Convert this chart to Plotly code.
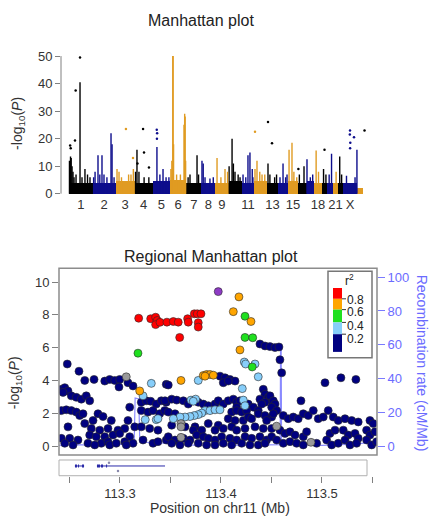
import plotly.graph_objects as go

W, H = 429, 523


def px(x):
    return x / W


def py(y):
    return 1 - y / H


FONT = "Liberation Sans, Arial, Helvetica, sans-serif"
TXT = "#333333"
AX = "#808080"
BLUE_AX = "#6b6bff"

# ---------------- Manhattan plot data ----------------
CHROMS = ["1", "2", "3", "4", "5", "6", "7", "8", "9", "10", "11", "12", "13",
          "14", "15", "16", "17", "18", "19", "20", "21", "22", "X", "Y", "MT"]
CHROM_LEN = [249.3, 243.2, 198.0, 191.2, 180.9, 171.1, 159.1, 146.4, 141.2, 135.5,
             135.0, 133.9, 115.2, 107.3, 102.5, 90.4, 81.2, 78.1, 59.1, 63.0,
             48.1, 51.3, 155.3, 59.4, 30.0]
CHROM_BASE = [4.0, 4.0, 4.5, 4.0, 4.5, 5.0, 4.0, 4.0, 4.0, 4.5, 4.0, 4.5, 4.0,
              4.0, 4.5, 4.0, 4.5, 4.0, 4.0, 4.0, 4.0, 4.0, 4.0, 2.0, 0.0]
CHROM_TICKS = ["1", "2", "3", "4", "5", "6", "7", "8", "9", "11", "13", "15", "18", "21", "X"]
CHROM_COLORS = ["#000000", "#0d0d8c", "#e09b22"]

PEAK_CHR = (["1"] * 12 + ["2"] * 10 + ["3"] * 6 + ["4"] * 5 + ["5"] * 5 + ["6"] * 11 +
            ["7"] * 4 + ["8"] * 5 + ["9"] * 4 + ["10"] * 6 + ["11"] * 6 + ["12"] * 5 +
            ["13"] * 4 + ["14"] * 4 + ["15"] * 4 + ["16"] * 2 + ["17"] * 3 + ["18"] * 2 +
            ["19"] * 2 + ["20"] * 2 + ["21"] * 1 + ["22"] * 2 + ["X"] * 3)
PEAK_POS = [5, 16, 23, 32, 42, 53, 74, 116, 137, 168, 195, 221,
            10, 25, 56, 75, 98, 119, 150, 193, 204, 225,
            13, 34, 60, 135, 160, 185,
            10, 25, 46, 100, 150,
            44, 75, 108, 140, 170,
            10, 20, 30, 33, 38, 70, 110, 148, 155, 160, 165,
            20, 40, 114, 130,
            7, 20, 39, 91, 126,
            19, 60, 103, 130,
            5, 36, 50, 67, 100, 120,
            16, 45, 68, 89, 113, 120,
            7, 28, 57, 81, 110,
            10, 30, 80, 100,
            21, 53, 80, 95,
            9, 40, 60, 90,
            15, 64,
            5, 40, 65,
            20, 45,
            20, 45,
            20, 45,
            30,
            20, 40,
            40, 130, 150]
PEAK_TOP = [12, 13.5, 13, 10, 8, 6, 7, 40.5, 6, 9, 7, 6,
            6, 8, 14, 7, 14, 7, 6, 22, 18, 6,
            9, 8, 6, 7, 7, 9,
            8, 16, 8, 6, 6,
            17, 7, 9, 6, 6,
            9, 12, 50, 50, 18, 7, 7, 25, 29, 28, 12,
            6, 7, 14, 7,
            12, 11, 6, 5.5, 6,
            13, 6, 9, 8,
            10, 20, 11, 8, 7, 6,
            7, 6, 14, 15, 9, 6,
            9, 12, 8, 7, 7,
            11, 7, 6, 7,
            6, 11, 6, 7,
            16, 18.5, 8, 6,
            7, 10,
            12.5, 6, 7,
            15.7, 8,
            9, 7,
            7, 14.5,
            8,
            13.5, 7,
            6.5, 6, 16]

POINT_CHR = ["1", "1", "1", "1", "1", "3", "3", "4", "4", "4", "4", "5", "5", "5",
             "12", "13", "13", "16", "19", "X", "X", "X", "X", "X", "MT"]
POINT_POS = [12, 18, 63, 70, 116, 107, 181, 89, 99, 151, 30, 42, 46, 44,
             7, 10, 52, 5, 30, 77, 75, 80, 78, 119, 15]
POINT_VAL = [17.5, 16.5, 19.3, 37.5, 49.5, 23.5, 13, 23.5, 15, 9.5, 11, 23.2, 22, 20,
             22.5, 26, 18.3, 9, 16, 23, 21.5, 18.5, 16.5, 20.5, 23]

# ---------------- Regional plot data ----------------
NAVY_POS = [113.2478, 113.2594, 113.2651, 113.2743, 113.2849, 113.2898, 113.2948, 113.2997,
            113.2990, 113.3079, 113.3129, 113.2419, 113.2453, 113.2485, 113.2518, 113.2567,
            113.2617, 113.2666, 113.2700, 113.2436, 113.2419, 113.2468, 113.2518, 113.2567,
            113.2601, 113.2634, 113.2782, 113.2832, 113.2733, 113.2914, 113.3096, 113.3079,
            113.2485, 113.2651, 113.2716, 113.2799, 113.2881, 113.2980, 113.3047, 113.3146,
            113.2700, 113.2765, 113.2849, 113.2931, 113.2997, 113.3096, 113.2419, 113.2502,
            113.2584, 113.2815, 113.2881, 113.3047, 113.3129, 113.2453, 113.2535, 113.2683,
            113.2750, 113.2898, 113.2963, 113.3062, 113.3211, 113.3260, 113.3304, 113.3359,
            113.3409, 113.3458, 113.3458, 113.3211, 113.3277, 113.3327, 113.3393, 113.3443,
            113.3211, 113.3294, 113.3376, 113.3228, 113.3327, 113.3376, 113.3458, 113.3478,
            113.3990, 113.4040, 113.4089, 113.4139, 113.4023, 113.4072, 113.4419, 113.4436,
            113.4386, 113.4468, 113.4502, 113.4436, 113.4403, 113.3446, 113.3512, 113.3561,
            113.3627, 113.3676, 113.3775, 113.3825, 113.3874, 113.3941, 113.3973, 113.4023,
            113.4072, 113.4122, 113.4155, 113.4188, 113.4155, 113.4270, 113.4320, 113.4369,
            113.3478, 113.3545, 113.4106, 113.4155, 113.4205, 113.4254, 113.4072, 113.4139,
            113.4221, 113.4270, 113.4304, 113.4369, 113.4436, 113.4502, 113.4452, 113.3512,
            113.3644, 113.3743, 113.3874, 113.3973, 113.4023, 113.4106, 113.4155, 113.4238,
            113.4337, 113.4419, 113.4502, 113.3726, 113.3809, 113.3941, 113.3478, 113.3545,
            113.3627, 113.3693, 113.3759, 113.3825, 113.3874, 113.3941, 113.4007, 113.4089,
            113.4155, 113.4238, 113.4304, 113.4386, 113.4452, 113.4502, 113.3512, 113.3594,
            113.3676, 113.3775, 113.3858, 113.3941, 113.4023, 113.4106, 113.4205, 113.4287,
            113.4369, 113.4436, 113.4386, 113.4436, 113.4485, 113.4535, 113.4574, 113.4584,
            113.4601, 113.5030, 113.5188, 113.5336, 113.4792, 113.4485, 113.4518, 113.4535,
            113.4502, 113.4551, 113.4518, 113.4617, 113.4666, 113.4716, 113.4765, 113.4815,
            113.4864, 113.4914, 113.4963, 113.5013, 113.5062, 113.5112, 113.5161, 113.5228,
            113.5294, 113.5359, 113.5475, 113.5508, 113.4584, 113.4634, 113.4683, 113.4733,
            113.4815, 113.4848, 113.5079, 113.5129, 113.5211, 113.5260, 113.5327, 113.5359,
            113.5442, 113.5475, 113.5525, 113.4551, 113.4617, 113.4683, 113.4749, 113.4815,
            113.4947, 113.5046, 113.5096, 113.5161, 113.5228, 113.5277, 113.5343, 113.5442,
            113.5492, 113.5541]
NAVY_LOGP = [5.01, 4.57, 4.01, 4.07, 3.97, 4.07, 4.01, 4.07,
             3.61, 3.87, 3.67, 3.47, 3.57, 3.37, 3.07, 2.98,
             2.87, 3.07, 2.77, 3.28, 2.17, 2.22, 2.17, 2.08,
             1.87, 1.98, 1.98, 1.81, 1.57, 1.57, 2.38, 1.57,
             1.18, 1.38, 1.08, 0.98, 1.08, 0.98, 1.08, 1.18,
             0.68, 0.58, 0.58, 0.68, 0.78, 0.58, 0.48, 0.48,
             0.38, 0.18, 0.28, 0.28, 0.18, 0.18, 0.08, 0.18,
             0.08, 0.08, 0.18, 0.08, 2.68, 2.77, 2.74, 2.57,
             2.77, 2.68, 3.77, 2.17, 2.08, 2.17, 1.98, 2.17,
             1.18, 1.08, 0.98, 0.38, 0.18, 0.28, 0.38, 3.73,
             4.27, 4.17, 4.07, 3.97, 3.87, 3.97, 3.47, 3.17,
             2.87, 2.98, 2.77, 2.68, 2.57, 2.77, 2.87, 2.81,
             2.77, 2.57, 2.68, 2.57, 2.47, 2.57, 2.77, 2.57,
             2.77, 2.87, 2.68, 2.77, 2.38, 2.57, 2.38, 2.17,
             2.08, 1.98, 2.08, 2.17, 2.08, 2.17, 1.68, 1.57,
             1.57, 1.78, 1.68, 1.98, 1.87, 1.78, 1.57, 1.28,
             1.18, 1.18, 1.38, 1.28, 1.08, 1.18, 0.98, 1.08,
             1.18, 1.08, 1.08, 0.98, 0.98, 0.98, 0.58, 0.38,
             0.48, 0.38, 0.68, 0.58, 0.48, 0.38, 0.58, 0.48,
             0.38, 0.58, 0.48, 0.58, 0.38, 0.58, 0.18, 0.08,
             0.18, 0.18, 0.08, 0.08, 0.18, 0.08, 0.18, 0.08,
             0.08, 0.18, 6.23, 6.11, 6.07, 6.01, 6.05, 5.27,
             4.47, 3.87, 4.17, 4.07, 2.77, 3.07, 2.77, 2.57,
             2.38, 2.17, 1.98, 1.87, 1.68, 1.78, 1.68, 1.98,
             1.87, 2.17, 1.68, 1.78, 2.17, 1.78, 1.57, 1.68,
             1.57, 1.48, 1.57, 1.38, 0.98, 0.78, 0.88, 0.68,
             0.58, 0.88, 0.78, 0.98, 0.98, 0.68, 0.78, 0.48,
             0.98, 0.68, 0.88, 0.38, 0.18, 0.28, 0.18, 0.08,
             0.18, 0.38, 0.08, 0.18, 0.38, 0.08, 0.18, 0.38,
             0.08, 0.28]

LIGHTBLUE_POS = [113.3775, 113.4231, 113.4244, 113.4337, 113.4369, 113.4211, 113.4221, 113.4238,
                 113.3703, 113.3749, 113.3726, 113.3842, 113.3891, 113.3941, 113.3990, 113.3809,
                 113.3775, 113.3736, 113.3693, 113.3644, 113.3594, 113.3528, 113.3310, 113.3250,
                 113.3359, 113.3376, 113.3228]
LIGHTBLUE_LOGP = [4.01, 5.13, 5.01, 5.01, 4.23, 3.51, 2.81, 2.47,
                  2.81, 2.87, 2.74, 2.17, 2.17, 2.22, 2.22, 2.02,
                  1.93, 1.87, 1.81, 1.78, 1.78, 1.68, 3.83, 1.62,
                  1.62, 1.68, 3.07]

GRAY_POS = [113.3062, 113.3604, 113.3604, 113.3604, 113.4551, 113.4891]
GRAY_LOGP = [4.23, 1.38, 1.18, 0.54, 1.22, 0.24]

GREEN_POS = [113.3178, 113.4238, 113.4238, 113.4314, 113.4310]
GREEN_LOGP = [5.67, 7.92, 6.63, 6.61, 4.83]

ORANGE_POS = [113.4178, 113.4122, 113.4297, 113.4188, 113.3604, 113.3825, 113.3858, 113.3891,
              113.3924, 113.3842, 113.3195]
ORANGE_LOGP = [9.10, 8.20, 7.60, 5.87, 4.01, 4.31, 4.37, 4.37,
               4.33, 4.27, 3.37]

RED_POS = [113.3185, 113.3304, 113.3353, 113.3369, 113.3353, 113.3396, 113.3465, 113.3528,
           113.3577, 113.3591, 113.3670, 113.3676, 113.3736, 113.3765, 113.3802, 113.3775,
           113.3775]
RED_LOGP = [7.80, 7.77, 7.86, 7.66, 7.41, 7.55, 7.56, 7.60,
            7.56, 6.63, 7.77, 7.56, 8.07, 8.07, 8.07, 7.53,
            7.26]

LEAD_POS = [113.3973]
LEAD_LOGP = [9.42]

RECOMB_POS = [113.2396, 113.2550, 113.2700, 113.2900, 113.3140, 113.3150, 113.3186, 113.3196,
              113.3400, 113.3600, 113.3800, 113.4000, 113.4200, 113.4450, 113.4586, 113.4590,
              113.4596, 113.4600, 113.4800, 113.5000, 113.5300, 113.5450, 113.5545]
RECOMB_RATE = [0.5, 1.0, 0.6, 1.2, 0.8, 28.5, 28.0, 2.5,
               2.0, 1.0, 0.5, 0.8, 0.5, 0.8, 1.0, 58.5,
               57.5, 1.5, 0.8, 0.5, 1.2, 2.0, 0.8]

R2_LABELS = ["0.8", "0.6", "0.4", "0.2"]
R2_COLORS = ["#ff0000", "#ffa500", "#1fe01f", "#87cefa", "#000080"]
LEAD_COLOR = "#8e3bc5"
GRAY_COLOR = "#9a9a9a"

GENE_LINE_START = [113.2554, 113.2772]
GENE_LINE_END = [113.2644, 113.3446]
EXON_START = [113.2554, 113.2584, 113.2624, 113.2772, 113.2812, 113.2862]
EXON_END = [113.2574, 113.2594, 113.2644, 113.2802, 113.2832, 113.2872]
GENE_MARK_POS = [113.2891, 113.2980]
GENE_MARK_Y = [0.82, 0.30]

REG_XTICK0 = 113.3
REG_XDTICK = 0.1
REG_XMINOR = 0.05

# ---------------- build figure ----------------
offset, mid, ccol = {}, {}, {}
acc = 0.0
for i, (c, L) in enumerate(zip(CHROMS, CHROM_LEN)):
    offset[c] = acc
    mid[c] = acc + L / 2
    ccol[c] = CHROM_COLORS[i % 3]
    acc += L

fig = go.Figure()

# dense baseline band of each chromosome
fig.add_trace(go.Bar(
    x=[mid[c] for c in CHROMS], y=CHROM_BASE, width=CHROM_LEN,
    marker=dict(color=[ccol[c] for c in CHROMS], line=dict(width=0)),
    xaxis="x", yaxis="y", showlegend=False, hoverinfo="skip"))

# peak columns
for col in CHROM_COLORS:
    xs, ys = [], []
    for c, p, t in zip(PEAK_CHR, PEAK_POS, PEAK_TOP):
        if ccol[c] != col:
            continue
        g = offset[c] + p
        xs += [g, g, None]
        ys += [0, t, None]
    fig.add_trace(go.Scatter(x=xs, y=ys, mode="lines", line=dict(color=col, width=1.4),
                             xaxis="x", yaxis="y", showlegend=False, hoverinfo="skip"))

# isolated points
for col in CHROM_COLORS:
    xs = [offset[c] + p for c, p in zip(POINT_CHR, POINT_POS) if ccol[c] == col]
    ys = [v for c, v in zip(POINT_CHR, POINT_VAL) if ccol[c] == col]
    fig.add_trace(go.Scatter(x=xs, y=ys, mode="markers", marker=dict(color=col, size=2.5),
                             xaxis="x", yaxis="y", showlegend=False, hoverinfo="skip"))

# recombination rate line (base axis y2, drawn underneath)
fig.add_trace(go.Scatter(x=RECOMB_POS, y=RECOMB_RATE, mode="lines",
                         line=dict(color="#8a8aff", width=1.2),
                         xaxis="x2", yaxis="y2", showlegend=False, hoverinfo="skip"))

MLINE = dict(color="#2a2a2a", width=0.6)
groups = [
    (NAVY_POS, NAVY_LOGP, R2_COLORS[4]),
    (LIGHTBLUE_POS, LIGHTBLUE_LOGP, R2_COLORS[3]),
    (GRAY_POS, GRAY_LOGP, GRAY_COLOR),
    (GREEN_POS, GREEN_LOGP, R2_COLORS[2]),
    (ORANGE_POS, ORANGE_LOGP, R2_COLORS[1]),
    (RED_POS, RED_LOGP, R2_COLORS[0]),
    (LEAD_POS, LEAD_LOGP, LEAD_COLOR),
]
for xs, ys, col in groups:
    fig.add_trace(go.Scatter(x=xs, y=ys, mode="markers",
                             marker=dict(color=col, size=8, line=MLINE),
                             xaxis="x2", yaxis="y4", showlegend=False, hoverinfo="skip"))

# gene track
gx, gy = [], []
for s, e in zip(GENE_LINE_START, GENE_LINE_END):
    gx += [s, e, None]
    gy += [0.62, 0.62, None]
fig.add_trace(go.Scatter(x=gx, y=gy, mode="lines", line=dict(color="#2a2aa8", width=1),
                         xaxis="x3", yaxis="y3", showlegend=False, hoverinfo="skip"))
ex, ey = [], []
for s, e in zip(EXON_START, EXON_END):
    ex += [s, e, None]
    ey += [0.62, 0.62, None]
fig.add_trace(go.Scatter(x=ex, y=ey, mode="lines", line=dict(color="#2a2aa8", width=3),
                         xaxis="x3", yaxis="y3", showlegend=False, hoverinfo="skip"))
fig.add_trace(go.Scatter(x=GENE_MARK_POS, y=GENE_MARK_Y, mode="markers",
                         marker=dict(color="#8888aa", size=2.5),
                         xaxis="x3", yaxis="y3", showlegend=False, hoverinfo="skip"))

# ---------------- layout ----------------
top_range_y = [-0.6, 51.5]
reg_xrange = [113.2396, 113.5545]
tickfont = dict(family=FONT, size=13, color=TXT)

fig.update_layout(
    width=W, height=H, autosize=False,
    margin=dict(l=0, r=0, t=0, b=0),
    paper_bgcolor="white", plot_bgcolor="white",
    font=dict(family=FONT, color=TXT),
    bargap=0,
    xaxis=dict(domain=[px(61), px(372)], range=[-84.2, 3189.5], anchor="y",
               tickvals=[mid[c] for c in CHROM_TICKS], ticktext=CHROM_TICKS,
               ticks="", showgrid=False, zeroline=False, showline=False,
               tickfont=tickfont),
    yaxis=dict(domain=[py(195.7), py(49.8)], range=top_range_y, anchor="x",
               tickvals=[0, 10, 20, 30, 40, 50], ticks="outside", ticklen=5,
               tickcolor=AX, showgrid=False, zeroline=False, showline=False,
               tickfont=tickfont),
    xaxis2=dict(domain=[px(59), px(377)], range=reg_xrange, anchor="y2",
                showticklabels=False, ticks="", showgrid=False, zeroline=False,
                showline=False),
    yaxis2=dict(domain=[py(460), py(270)], range=[-5.23, 105.2], anchor="x2",
                side="right", tickvals=[0, 20, 40, 60, 80, 100], ticks="outside",
                ticklen=7, tickcolor="#7a7aff", showgrid=False, zeroline=False,
                showline=False, tickfont=dict(family=FONT, size=13, color=BLUE_AX)),
    yaxis4=dict(overlaying="y2", side="left", anchor="x2", range=[-0.539, 10.838],
                tickvals=[0, 2, 4, 6, 8, 10], ticks="outside", ticklen=6,
                tickcolor=AX, showgrid=False, zeroline=False, showline=False,
                tickfont=tickfont),
    xaxis3=dict(domain=[px(59), px(377)], range=reg_xrange, anchor="y3",
                tickmode="linear", tick0=REG_XTICK0, dtick=REG_XDTICK, ticks="outside",
                ticklen=6, tickcolor=AX, showgrid=False, zeroline=False,
                minor=dict(dtick=REG_XMINOR, tick0=REG_XTICK0, ticks="outside",
                           ticklen=6, tickcolor=AX, showgrid=False),
                showline=False, tickfont=tickfont),
    yaxis3=dict(domain=[py(481), py(465)], range=[0, 1], anchor="x3", visible=False),
)

shapes = [
    dict(type="line", xref="paper", yref="y", x0=px(61), x1=px(61), y0=0, y1=50,
         line=dict(color=AX, width=1)),
    dict(type="rect", xref="paper", yref="paper", x0=px(59), x1=px(377),
         y0=py(460), y1=py(270), line=dict(color="#8c8c8c", width=1.5)),
    dict(type="rect", xref="paper", yref="paper", x0=px(59), x1=px(367),
         y0=py(481), y1=py(465), line=dict(color="#b0b0b0", width=1)),
    dict(type="rect", xref="paper", yref="paper", x0=px(328), x1=px(372),
         y0=py(361), y1=py(273), line=dict(color="#777777", width=1.5),
         fillcolor="white", layer="below"),
]
block_edges = [290, 301, 312, 325, 337, 355]
label_y = [302.7, 314.5, 328.5, 341.5]
for i, col in enumerate(R2_COLORS):
    shapes.append(dict(type="rect", xref="paper", yref="paper", x0=px(333), x1=px(342),
                       y0=py(block_edges[i + 1]), y1=py(block_edges[i]),
                       fillcolor=col, line=dict(width=0)))
annotations = []
for i, lab in enumerate(R2_LABELS):
    yb = block_edges[i + 1]
    shapes.append(dict(type="line", xref="paper", yref="paper", x0=px(342), x1=px(346),
                       y0=py(yb), y1=py(yb), line=dict(color="#333333", width=1)))
    annotations.append(dict(text=lab, x=px(346), y=py(label_y[i]), xref="paper", yref="paper",
                            xanchor="left", yanchor="middle", showarrow=False, borderpad=0,
                            font=dict(family=FONT, size=12, color="#222222")))

annotations += [
    dict(text="r<sup>2</sup>", x=px(349), y=py(282), xref="paper", yref="paper",
         xanchor="center", yanchor="middle", showarrow=False,
         font=dict(family=FONT, size=12, color="#222222")),
    dict(text="Manhattan plot", x=px(201), y=py(18), xref="paper", yref="paper",
         xanchor="center", yanchor="middle", showarrow=False,
         font=dict(family=FONT, size=16, color="#222222")),
    dict(text="Regional Manhattan plot", x=px(211), y=py(258), xref="paper", yref="paper",
         xanchor="center", yanchor="middle", showarrow=False,
         font=dict(family=FONT, size=16, color="#222222")),
    dict(text="-log<sub>10</sub>(<i>P</i>)", x=px(18), y=py(123), xref="paper", yref="paper",
         xanchor="center", yanchor="middle", showarrow=False, textangle=-90,
         font=dict(family=FONT, size=14, color=TXT)),
    dict(text="-log<sub>10</sub>(<i>P</i>)", x=px(15), y=py(387), xref="paper", yref="paper",
         xanchor="center", yanchor="middle", showarrow=False, textangle=-90,
         font=dict(family=FONT, size=14, color=TXT)),
    dict(text="Position on chr11 (Mb)", x=px(220), y=py(514), xref="paper", yref="paper",
         xanchor="center", yanchor="middle", showarrow=False,
         font=dict(family=FONT, size=14, color=TXT)),
    dict(text="Recombination rate (cM/Mb)", x=px(422), y=py(366), xref="paper", yref="paper",
         xanchor="center", yanchor="middle", showarrow=False, textangle=90,
         font=dict(family=FONT, size=14, color=BLUE_AX)),
]
fig.update_layout(shapes=shapes, annotations=annotations)

fig.write_html("out.html", config={"displayModeBar": False},
               post_script="document.body.style.margin='0';")
